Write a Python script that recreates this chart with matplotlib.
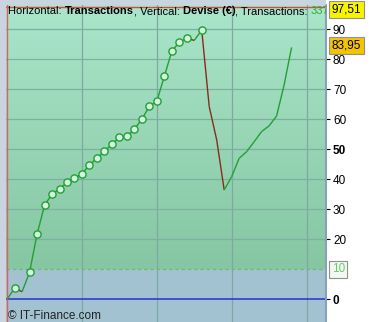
import numpy as np
import matplotlib
matplotlib.use("Agg")
import matplotlib.pyplot as plt
from matplotlib.collections import LineCollection
from matplotlib.patches import Rectangle

plt.rcParams['font.family'] = ['Liberation Sans', 'DejaVu Sans']

# ---- data ----
transactions = list(range(39))
equity = [0.0, 3.7, 2.5, 9.0, 21.7, 31.3, 35.1, 36.7, 39.0, 40.3,
          41.8, 44.8, 47.0, 49.3, 51.7, 54.0, 54.3, 56.7, 60.0, 64.3,
          66.0, 74.3, 82.7, 85.7, 87.0, 86.3, 89.7, 64.2, 53.1, 36.4,
          40.9, 47.0, 49.2, 52.5, 55.9, 57.8, 61.1, 71.4, 83.95]
max_level = 97.51
last_level = 83.95
threshold = 10
ytick_values = [0, 20, 30, 40, 50, 60, 70, 80, 90]
title_parts = [("Horizontal: ", "normal", "black"), ("Transactions", "bold", "black"),
               (", Vertical: ", "normal", "black"), ("Devise (€)", "bold", "black"),
               (", Transactions: ", "normal", "black"), ("337", "normal", "#33aa33")]
copyright_text = "© IT-Finance.com"

W, H = 373, 322
fig = plt.figure(figsize=(W/100, H/100), dpi=100, facecolor='white')

# frame strips
fig.patches.append(Rectangle((0, 0), 6/W, 1, transform=fig.transFigure,
                             facecolor='#c8d4e0', edgecolor='none', zorder=0))
fig.patches.append(Rectangle((0, (H-5)/H), 326/W, 5/H, transform=fig.transFigure,
                             facecolor='#c8d4e0', edgecolor='none', zorder=0))

ax = fig.add_axes([6/W, 0, (326-6)/W, (H-5)/H])
ymin, ymax = -7.6, 98.1
xmin, xmax = -0.15, 42.6
ax.set_xlim(xmin, xmax)
ax.set_ylim(ymin, ymax)

# backgrounds
grad = np.linspace(0, 1, 256)
top_c = np.array([170, 230, 202]) / 255
bot_c = np.array([134, 198, 162]) / 255
img = (bot_c[None, :] + (top_c - bot_c)[None, :] * grad[:, None]).reshape(256, 1, 3)
ax.imshow(img, extent=[xmin, xmax, threshold, ymax], origin='lower', aspect='auto', zorder=0)
ax.axhspan(ymin, threshold, facecolor='#a2c2d2', edgecolor='none', zorder=0)

# grid
for v in [10, 20, 30, 40]:
    ax.axvline(v, color='#7ea8a4', lw=0.9, zorder=1)
for v in range(20, 100, 10):
    ax.axhline(v, color='#7eb0a0', lw=0.9, zorder=1)
ax.axhline(threshold, color='#66c266', lw=0.9, ls=(0, (3, 2)), zorder=2)
ax.axhline(0, color='#2233cc', lw=1.1, zorder=2)
ax.axhline(max_level, color='#dd4444', lw=1.0, zorder=2)
ax.axvline(transactions[0], color='#e06060', lw=1.0, zorder=2)

# equity line
x = np.array(transactions, dtype=float)
y = np.array(equity)
segs = np.stack([np.column_stack([x[:-1], y[:-1]]), np.column_stack([x[1:], y[1:]])], axis=1)
cols = ['#22a033' if y[i+1] >= y[i] else '#8a2a1e' for i in range(len(y)-1)]
ax.add_collection(LineCollection(segs, colors=cols, linewidths=1.0, zorder=3))
runmax = np.maximum.accumulate(y)
is_high = np.r_[False, y[1:] > runmax[:-1]]
cut = 27
mask = is_high & (x < cut)
ax.plot(x[mask], y[mask], ls='none', marker='o', ms=5.2, mfc='#d4f2e0', mec='#22a033',
        mew=1.0, zorder=4)

# axes styling
for s in ['top', 'left', 'bottom']:
    ax.spines[s].set_visible(False)
ax.spines['right'].set_color('#8aa0b4')
ax.spines['right'].set_linewidth(1.5)
ax.set_xticks([])
ax.yaxis.tick_right()
ax.set_yticks(ytick_values)
ax.set_yticklabels([str(v) for v in ytick_values])
ax.tick_params(axis='y', length=3, width=0.8, pad=2, labelsize=8.5, colors='black')
for lab in ax.get_yticklabels():
    if lab.get_text() in ('0', '50'):
        lab.set_fontweight('bold')

# value boxes on right
def vbox(val, txt, fc, tc, dy):
    ax.annotate(txt, xy=(1, val), xycoords=('axes fraction', 'data'),
                xytext=(4, dy), textcoords='offset points', va='center', ha='left',
                fontsize=8.5, color=tc, annotation_clip=False,
                bbox=dict(boxstyle='square,pad=0.22', fc=fc, ec='#909090', lw=0.8))

vbox(max_level, "97,51", '#f8f400', 'black', -2.2)
vbox(last_level, "83,95", '#f4c400', 'black', 1.5)
vbox(threshold, "10", '#f2f8f2', '#66cc66', 0)

# title in pieces, same baseline
renderer = fig.canvas.get_renderer()
xpos = 8
base_y = H - 14
for txt, wt, col in title_parts:
    t = fig.text(xpos / W, base_y / H, txt, fontsize=8, fontweight=wt, color=col,
                 va='baseline', ha='left')
    t.set_clip_path(ax.patch)
    bb = t.get_window_extent(renderer=renderer)
    xpos = bb.x1

ax.text(2/320, 6/(H-5), copyright_text, transform=ax.transAxes, fontsize=8.5,
        va='center', ha='left', color='#222222', clip_on=True)

fig.savefig('out.png', dpi=100, facecolor='white')
